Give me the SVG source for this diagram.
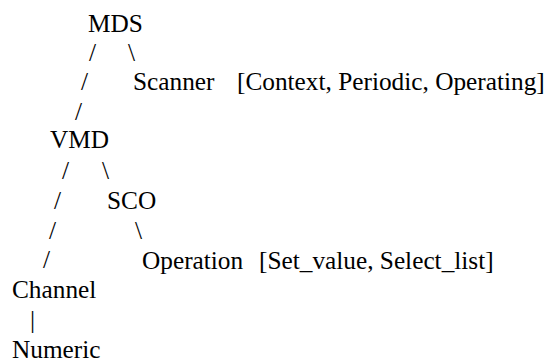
<svg xmlns="http://www.w3.org/2000/svg" width="554" height="362" viewBox="0 0 554 362">
<style>
.t { font-family: 'Liberation Serif', serif; font-size: 25.3px; fill: #000; }
</style>
<rect width="554" height="362" fill="#fff"/>
<g id="node-mds"><text class="t" font-family="Liberation Serif" font-size="25.3" x="88" y="32">MDS</text></g>
<g id="node-scanner"><text class="t" font-family="Liberation Serif" font-size="25.3" x="133" y="90">Scanner</text><text class="t" font-family="Liberation Serif" font-size="25.3" x="237" y="90">[Context, Periodic, Operating]</text></g>
<g id="node-vmd"><text class="t" font-family="Liberation Serif" font-size="25.3" x="50" y="148">VMD</text></g>
<g id="node-sco"><text class="t" font-family="Liberation Serif" font-size="25.3" x="107" y="209">SCO</text></g>
<g id="node-operation"><text class="t" font-family="Liberation Serif" font-size="25.3" x="142" y="269">Operation</text><text class="t" font-family="Liberation Serif" font-size="25.3" x="259" y="269">[Set_value, Select_list]</text></g>
<g id="node-channel"><text class="t" font-family="Liberation Serif" font-size="25.3" x="12" y="298">Channel</text></g>
<g id="node-numeric"><text class="t" font-family="Liberation Serif" font-size="25.3" x="12" y="358">Numeric</text></g>
<g id="connectors">
<text class="t" font-family="Liberation Serif" font-size="25.3" x="89" y="61">/</text>
<text class="t" font-family="Liberation Serif" font-size="25.3" x="128" y="61">\</text>
<text class="t" font-family="Liberation Serif" font-size="25.3" x="81" y="90">/</text>
<text class="t" font-family="Liberation Serif" font-size="25.3" x="75" y="120">/</text>
<text class="t" font-family="Liberation Serif" font-size="25.3" x="62" y="179">/</text>
<text class="t" font-family="Liberation Serif" font-size="25.3" x="102" y="179">\</text>
<text class="t" font-family="Liberation Serif" font-size="25.3" x="54" y="209">/</text>
<text class="t" font-family="Liberation Serif" font-size="25.3" x="49" y="239">/</text>
<text class="t" font-family="Liberation Serif" font-size="25.3" x="135" y="239">\</text>
<text class="t" font-family="Liberation Serif" font-size="25.3" x="43" y="268">/</text>
<text class="t" font-family="Liberation Serif" font-size="25.3" x="30" y="328">|</text>
</g>
</svg>
